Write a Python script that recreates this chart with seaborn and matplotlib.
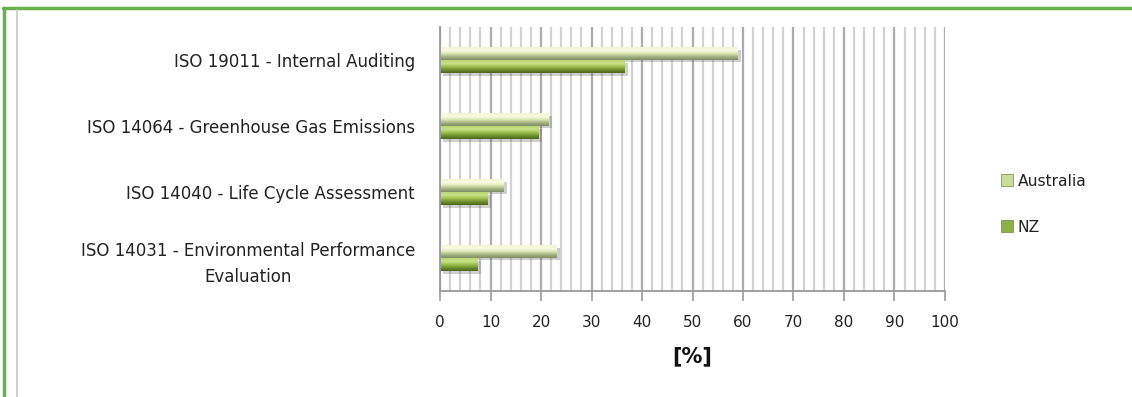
import numpy as np
import pandas as pd
import matplotlib
matplotlib.use("Agg")
import matplotlib.pyplot as plt
import matplotlib.patheffects as pe
from matplotlib.colors import LinearSegmentedColormap
from matplotlib.lines import Line2D
import seaborn as sns

# Share of organisations using each ISO standard (%)
standards = [
    "ISO 19011 - Internal Auditing",
    "ISO 14064 - Greenhouse Gas Emissions",
    "ISO 14040 - Life Cycle Assessment",
    "ISO 14031 - Environmental Performance\nEvaluation",
]
australia = [59.0, 21.5, 12.5, 23.0]
nz = [36.5, 19.5, 9.5, 7.5]
countries = ["Australia", "NZ"]
x_ticks = list(range(0, 101, 10))

df = pd.DataFrame({
    "standard": standards * 2,
    "value": australia + nz,
    "country": ["Australia"] * len(standards) + ["NZ"] * len(standards),
})

sns.set_theme(style="white")
plt.rcParams["font.family"] = ["DejaVu Sans"]

fig = plt.figure(figsize=(11.32, 3.97), dpi=100)
ax = fig.add_axes([0.3887, 0.267, 0.4461, 0.665])

base = {"Australia": "#c9dc9a", "NZ": "#8db046"}
sns.barplot(data=df, y="standard", x="value", hue="country", order=standards,
            hue_order=countries, palette=base, orient="h", width=0.4,
            gap=0.06, ax=ax, legend=False, saturation=1)

# cylinder-like shading for each series
grads = {
    "Australia": LinearSegmentedColormap.from_list(
        "aus", ["#f0f5d0", "#fbfbe6", "#dbe7b4", "#a4b384", "#7f8c66"]),
    "NZ": LinearSegmentedColormap.from_list(
        "nz", ["#b8d672", "#c9e38a", "#9cbf4e", "#6f8f30", "#4c6520"]),
}
grad_img = np.linspace(0, 1, 64).reshape(-1, 1)
n = len(standards)
for i, patch in enumerate(ax.patches):
    country = countries[i // n]
    patch.set_edgecolor("none")
    patch.set_path_effects([pe.SimplePatchShadow(offset=(2.5, -2), alpha=0.28,
                                                 shadow_rgbFace="#555555"),
                            pe.Normal()])
    x0, y0 = patch.get_x(), patch.get_y()
    w, h = patch.get_width(), patch.get_height()
    im = ax.imshow(grad_img, cmap=grads[country], aspect="auto",
                   extent=(x0, x0 + w, y0 + h, y0), zorder=patch.get_zorder() + 0.1,
                   interpolation="bicubic")
    im.set_clip_path(patch)

ax.set_xlim(0, 100)
ax.set_ylim(len(standards) - 0.5, -0.5)
ax.set_xticks(x_ticks)
ax.set_xticks(np.arange(0, 101, 2), minor=True)
ax.grid(True, axis="x", which="minor", color="#d2d2d2", linewidth=1.6)
ax.grid(True, axis="x", which="major", color="#acacac", linewidth=1.6)
ax.set_axisbelow(True)

for side in ["top", "right"]:
    ax.spines[side].set_visible(False)
for side in ["left", "bottom"]:
    ax.spines[side].set_color("#9a9a9a")
    ax.spines[side].set_linewidth(1.3)

ax.tick_params(axis="x", which="major", bottom=True, length=7, width=1.2,
               color="#9a9a9a", labelsize=11, labelcolor="#222222", pad=10)
ax.tick_params(axis="x", which="minor", bottom=False)
ax.tick_params(axis="y", left=False, labelsize=12, labelcolor="#222222", pad=12)
for lab in ax.get_yticklabels():
    lab.set_horizontalalignment("right")
    lab.set_multialignment("center")
    lab.set_linespacing(1.6)

ax.set_ylabel("")
ax.set_xlabel("[%]", fontsize=15, fontweight="bold", color="#111111", labelpad=12)

handles = [Line2D([], [], marker="s", linestyle="none", markersize=8,
                  markerfacecolor=base[c], markeredgecolor="#6d8a3a",
                  markeredgewidth=0.5) for c in countries]
fig.legend(handles, countries, loc="center left", bbox_to_anchor=(0.872, 0.486),
           frameon=False, fontsize=11.2, labelspacing=2.0, handletextpad=0.25,
           handlelength=0.8, labelcolor="#222222")

# outer frame
fig.add_artist(Line2D([3 / 1132, 1.0], [1 - 8 / 397, 1 - 8 / 397],
                      transform=fig.transFigure, color="#6ab04c", linewidth=2.5))
fig.add_artist(Line2D([3.5 / 1132, 3.5 / 1132], [0, 1 - 8 / 397],
                      transform=fig.transFigure, color="#6ab04c", linewidth=2.5))
fig.add_artist(Line2D([16.5 / 1132, 16.5 / 1132], [0, 1 - 10 / 397],
                      transform=fig.transFigure, color="#c8c8c8", linewidth=1.2))

fig.savefig("out.png", dpi=100)
